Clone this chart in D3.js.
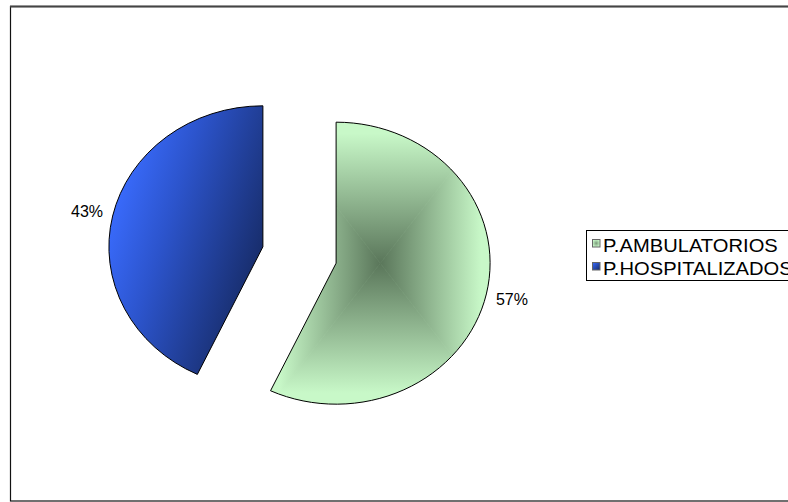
<!DOCTYPE html>
<html>
<head>
<meta charset="utf-8">
<script src="https://cdn.jsdelivr.net/npm/d3@7/dist/d3.min.js"></script>
<style>
  html, body { margin: 0; padding: 0; background: #fff; }
  svg { display: block; }
  text { font-family: "Liberation Sans", Arial, sans-serif; fill: #000; }
</style>
</head>
<body>
<svg id="chart" width="788" height="502"></svg>
<script>
// Patient share by care type
const categories = ["P.AMBULATORIOS", "P.HOSPITALIZADOS"];
const values = [57, 43];
const labels = ["57%", "43%"];

const W = 788, H = 502;
const svg = d3.select("#chart");
const defs = svg.append("defs");

// chart area frame
svg.append("rect")
  .attr("x", 10.5).attr("y", 6.5)
  .attr("width", W + 10).attr("height", 494.5)
  .attr("fill", "#fff").attr("stroke", "#111").attr("stroke-width", 1.2);
svg.append("line")
  .attr("x1", 10).attr("x2", W).attr("y1", 6.5).attr("y2", 6.5)
  .attr("stroke", "#444").attr("stroke-width", 2);

// pie geometry (slightly flattened ellipse, exploded slices)
const cx = 299.5, cy = 255;
const ry = 141, rx = 154;
const sx = rx / ry;
const explode = 37.5;
const labelR = 1.17;

const pie = d3.pie().sort(null).startAngle(0).endAngle(2 * Math.PI);
const arcs = pie(values);
const arc = d3.arc().innerRadius(0).outerRadius(ry);

// blue diagonal gradient
const gBlue = defs.append("linearGradient").attr("id", "gBlue")
  .attr("x1", 0.1).attr("y1", 0.2).attr("x2", 1).attr("y2", 0.7);
gBlue.append("stop").attr("offset", 0).attr("stop-color", "#3a6cff");
gBlue.append("stop").attr("offset", 0.35).attr("stop-color", "#2c54cc");
gBlue.append("stop").attr("offset", 1).attr("stop-color", "#15285f");

const greenDark = "#5a765a", greenLight = "#c8f8c8";

arcs.forEach((a, i) => {
  const mid = (a.startAngle + a.endAngle) / 2;
  const ox = cx + explode * Math.sin(mid);
  const oy = cy - explode * Math.cos(mid);
  const g = svg.append("g")
    .attr("transform", `translate(${ox},${oy}) scale(${sx},1)`);
  const d = arc(a);

  if (i === 0) {
    // rectangular "from centre" shading: four triangles clipped to the slice
    const clip = defs.append("clipPath").attr("id", "clipGreen");
    clip.append("path").attr("d", d);
    const tmp = g.append("path").attr("d", d);
    const bb = tmp.node().getBBox();
    tmp.remove();
    const mx = bb.x + bb.width / 2, my = bb.y + bb.height / 2;
    const x0 = bb.x, x1 = bb.x + bb.width, y0 = bb.y, y1 = bb.y + bb.height;
    const tris = [
      { pts: [[x0, y0], [x1, y0], [mx, my]], to: [mx, y0] },
      { pts: [[x1, y0], [x1, y1], [mx, my]], to: [x1, my] },
      { pts: [[x1, y1], [x0, y1], [mx, my]], to: [mx, y1] },
      { pts: [[x0, y1], [x0, y0], [mx, my]], to: [x0, my] }
    ];
    const sg = g.append("g").attr("clip-path", "url(#clipGreen)");
    sg.append("path").attr("d", d).attr("fill", greenLight);
    tris.forEach((t, k) => {
      const lg = defs.append("linearGradient").attr("id", "gG" + k)
        .attr("gradientUnits", "userSpaceOnUse")
        .attr("x1", mx).attr("y1", my).attr("x2", t.to[0]).attr("y2", t.to[1]);
      lg.append("stop").attr("offset", 0).attr("stop-color", greenDark);
      lg.append("stop").attr("offset", 0.92).attr("stop-color", greenLight);
      sg.append("polygon")
        .attr("points", t.pts.map(p => p.join(",")).join(" "))
        .attr("fill", `url(#gG${k})`)
        .attr("stroke", `url(#gG${k})`).attr("stroke-width", 0.6);
    });
    g.append("path").attr("d", d).attr("fill", "none")
      .attr("stroke", "#000").attr("stroke-width", 1)
      .attr("vector-effect", "non-scaling-stroke");
  } else {
    g.append("path").attr("d", d).attr("fill", "url(#gBlue)")
      .attr("stroke", "#000").attr("stroke-width", 1)
      .attr("vector-effect", "non-scaling-stroke");
  }

  // percentage label outside the slice
  svg.append("text")
    .attr("x", ox + labelR * rx * Math.sin(mid))
    .attr("y", oy - labelR * ry * Math.cos(mid))
    .attr("dy", "0.36em")
    .attr("text-anchor", "middle")
    .attr("font-size", 16)
    .text(labels[i]);
});

// legend
const lg = svg.append("g");
lg.append("rect").attr("x", 586.5).attr("y", 230.5)
  .attr("width", 220).attr("height", 50)
  .attr("fill", "#fff").attr("stroke", "#000").attr("stroke-width", 1);

const mGreen = defs.append("radialGradient").attr("id", "mGreen");
mGreen.append("stop").attr("offset", 0).attr("stop-color", "#7a9a7a");
mGreen.append("stop").attr("offset", 1).attr("stop-color", "#c8f8c8");
const mBlue = defs.append("linearGradient").attr("id", "mBlue")
  .attr("x1", 0).attr("y1", 0).attr("x2", 1).attr("y2", 1);
mBlue.append("stop").attr("offset", 0).attr("stop-color", "#3a6cff");
mBlue.append("stop").attr("offset", 1).attr("stop-color", "#162a66");

const fills = ["url(#mGreen)", "url(#mBlue)"];
categories.forEach((c, i) => {
  const y = 239 + i * 23;
  lg.append("rect").attr("x", 592.5).attr("y", y + 0.5)
    .attr("width", 7.5).attr("height", 7.5)
    .attr("fill", fills[i]).attr("stroke", "#666").attr("stroke-width", 1);
  lg.append("text")
    .attr("transform", `translate(603,${y + 12.5}) scale(1.12,1)`)
    .attr("font-size", 18).text(c);
});
</script>
</body>
</html>
